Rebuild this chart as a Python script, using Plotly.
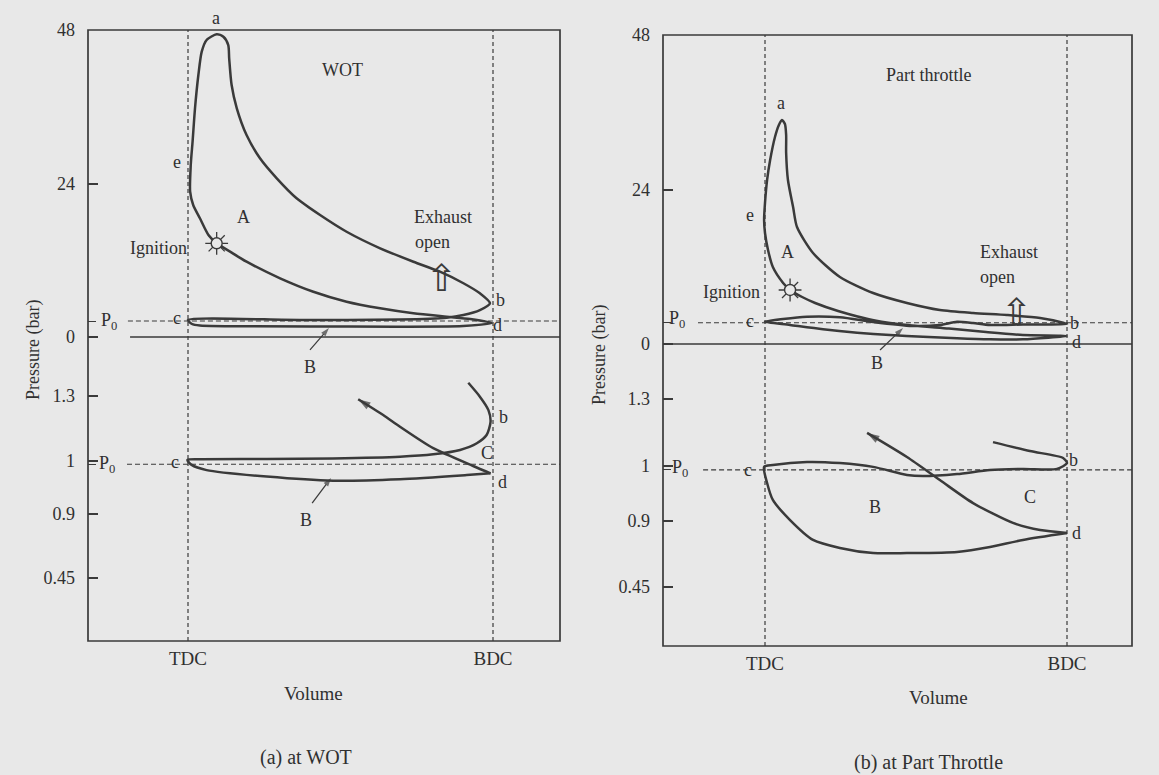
import plotly.graph_objects as go

W, H = 1159, 775
FONT = "Liberation Serif"
INK = "#3a3a3a"
TXT = "#303030"
BG = "#e8e8e8"

# ---------------- data (volume: 0 = TDC, 1 = BDC; pressure in bar) ----------------
TOP_TICK_VALS = [0, 24, 48]
TOP_TICK_TEXT = ["0", "24", "48"]
LOW_TICK_VALS = [1.3, 1.0, 0.755, 0.46]
LOW_TICK_TEXT = ["1.3", "1", "0.9", "0.45"]
X_TICK_VALS = [0, 1]
X_TICK_TEXT = ["TDC", "BDC"]

# (a) WOT - high pressure scale: d -> compression -> a -> expansion -> b -> exhaust -> c -> intake -> d
wot_hi_v = [0.996, 0.925, 0.848, 0.739, 0.630, 0.520, 0.411, 0.302, 0.192, 0.138, 0.094, 0.067,
            0.039, 0.017, 0.007, 0.009, 0.015, 0.023, 0.034, 0.045, 0.061, 0.094, 0.116, 0.132,
            0.135, 0.143, 0.160, 0.192, 0.236, 0.291, 0.356, 0.433, 0.520, 0.630, 0.739, 0.826,
            0.903, 0.957, 0.990, 0.957, 0.903, 0.848, 0.695, 0.367, 0.0, 0.013, 0.039, 0.466,
            0.902, 0.996]
wot_hi_p = [2.19, 2.81, 3.17, 3.71, 4.49, 5.52, 7.08, 9.18, 11.77, 13.34, 14.65, 15.95,
            18.56, 20.64, 22.72, 26.89, 30.54, 35.80, 40.96, 44.61, 46.44, 47.33, 46.95, 45.65,
            43.57, 39.40, 35.76, 31.58, 27.94, 24.81, 21.69, 19.07, 16.46, 13.87, 11.77, 10.21,
            8.40, 6.83, 5.27, 4.22, 3.44, 3.02, 2.74, 2.66, 2.66, 2.03, 1.80, 1.64,
            1.72, 2.19]
# (a) WOT - low pressure scale
wot_lo_v = [0.919, 0.957, 0.985, 0.992, 0.979, 0.947, 0.892, 0.804, 0.695, 0.475, 0.258, 0.039,
            -0.002, 0.012, 0.061, 0.258, 0.476, 0.695, 0.914, 0.992]
wot_lo_p = [1.361, 1.297, 1.235, 1.181, 1.120, 1.082, 1.051, 1.031, 1.020, 1.012, 1.009, 1.008,
            1.005, 0.982, 0.958, 0.928, 0.909, 0.916, 0.935, 0.943]
wot_cmp_v = [0.992, 0.935, 0.804, 0.695, 0.640, 0.558]
wot_cmp_p = [0.943, 0.977, 1.059, 1.158, 1.212, 1.285]
wot_ignition = (0.094, 14.65)
wot_exhaust_open = (0.832, 9.22)
wot_B_arrows = [((0.40, -2.03), (0.462, 1.41), "y2"), ((0.407, 0.806), (0.469, 0.922), "y")]
WOT_P0_HI = 2.5
WOT_P0_LO = 0.985

# (b) Part throttle - high pressure scale
pt_hi_v = [0.999, 0.854, 0.732, 0.609, 0.487, 0.364, 0.242, 0.166, 0.123, 0.083, 0.060, 0.026,
           0.010, 0.0, -0.003, 0.0, 0.007, 0.017, 0.033, 0.046, 0.056, 0.066, 0.070, 0.070,
           0.076, 0.093, 0.106, 0.159, 0.248, 0.358, 0.470, 0.579, 0.689, 0.801, 0.911, 0.987,
           1.0, 0.854, 0.745, 0.689, 0.636, 0.579, 0.487, 0.358, 0.248, 0.139, 0.060, 0.0,
           0.083, 0.192, 0.305, 0.414, 0.523, 0.636, 0.745, 0.854, 0.999]
pt_hi_p = [1.24, 1.40, 1.86, 2.41, 2.87, 3.65, 5.13, 6.37, 7.30, 8.39, 9.48, 11.96,
           14.60, 17.24, 19.26, 21.90, 25.48, 28.58, 32.16, 34.02, 34.80, 34.17, 32.47, 29.67,
           25.48, 21.28, 18.17, 14.14, 10.41, 7.92, 6.37, 5.28, 4.82, 4.50, 4.04, 3.31,
           3.11, 3.03, 2.95, 3.26, 3.46, 2.95, 2.80, 3.42, 4.15, 4.24, 3.88, 3.46,
           2.95, 2.28, 1.76, 1.40, 1.13, 0.89, 0.73, 0.73, 1.24]
# (b) Part throttle - low pressure scale
pt_lo_v = [0.755, 0.877, 0.987, 1.0, 0.967, 0.854, 0.745, 0.636, 0.523, 0.470, 0.358, 0.248,
           0.139, 0.026, -0.003, 0.007, 0.026, 0.083, 0.159, 0.248, 0.358, 0.470, 0.636, 0.745,
           0.854, 1.0]
pt_lo_p = [1.107, 1.067, 1.036, 1.013, 0.987, 0.987, 0.982, 0.964, 0.955, 0.960, 0.996, 1.013,
           1.018, 1.004, 0.996, 0.924, 0.848, 0.758, 0.669, 0.633, 0.610, 0.610, 0.615, 0.637,
           0.669, 0.700]
pt_cmp_v = [1.0, 0.911, 0.821, 0.689, 0.579, 0.470, 0.338]
pt_cmp_p = [0.700, 0.713, 0.745, 0.834, 0.937, 1.040, 1.148]
pt_ignition = (0.083, 8.39)
pt_exhaust_open = (0.834, 4.97)
pt_B_arrows = [((0.381, -0.93), (0.457, 2.49), "y4")]
PT_P0_HI = 3.3
PT_P0_LO = 0.983

# ---------------- layout geometry (pixels) ----------------
def fx(px):
    return px / W

def fy(py):
    return 1 - py / H

PANELS = [
    dict(x0=88, x1=560, top=30, bot=641, split=372, tdc=188, bdc=493, zero=337,
         kt=6.396, one=461, kl=216.7),
    dict(x0=663, x1=1132, top=35, bot=646, split=377, tdc=765, bdc=1067, zero=344,
         kt=6.4375, one=466, kl=223.3),
]

fig = go.Figure()
axis_font = dict(family=FONT, size=18, color=TXT)

for i, P in enumerate(PANELS):
    s = P["bdc"] - P["tdc"]
    xr = [(P["x0"] - P["tdc"]) / s, (P["x1"] - P["tdc"]) / s]
    up_r = [(P["zero"] - P["split"]) / P["kt"], (P["zero"] - P["top"]) / P["kt"]]
    lo_r = [1 + (P["one"] - P["bot"]) / P["kl"], 1 + (P["one"] - P["split"]) / P["kl"]]
    P["xr"] = xr
    xa = "xaxis" if i == 0 else "xaxis2"
    ylo = "yaxis" if i == 0 else "yaxis3"
    yup = "yaxis2" if i == 0 else "yaxis4"
    xname = "x" if i == 0 else "x2"
    yloname = "y" if i == 0 else "y3"
    p0hi = WOT_P0_HI if i == 0 else PT_P0_HI
    p0lo = WOT_P0_LO if i == 0 else PT_P0_LO
    common_y = dict(ticks="inside", ticklen=10, tickwidth=1.5, tickcolor=INK,
                    showline=False, showgrid=False, zeroline=False, ticklabelstandoff=12,
                    tickfont=axis_font, automargin=False, fixedrange=True)
    fig.update_layout(**{
        xa: dict(domain=[fx(P["x0"]), fx(P["x1"])], range=xr, anchor=yloname,
                 tickvals=X_TICK_VALS, ticktext=X_TICK_TEXT, ticks="", showline=False,
                 showgrid=False, zeroline=False, ticklabelstandoff=4, automargin=False,
                 fixedrange=True, tickfont=dict(family=FONT, size=19, color=TXT)),
        ylo: dict(domain=[fy(P["bot"]), fy(P["split"])], range=lo_r, anchor=xname,
                  tickvals=LOW_TICK_VALS, ticktext=LOW_TICK_TEXT,
                  minor=dict(tickvals=[p0lo], ticks="inside", ticklen=8, tickwidth=1.3,
                             tickcolor=INK, showgrid=False),
                  **common_y),
        yup: dict(domain=[fy(P["split"]), fy(P["top"])], range=up_r, anchor=xname,
                  tickvals=TOP_TICK_VALS, ticktext=TOP_TICK_TEXT,
                  minor=dict(tickvals=[p0hi], ticks="inside", ticklen=8, tickwidth=1.3,
                             tickcolor=INK, showgrid=False),
                  **common_y),
    })
    # frame
    fig.add_shape(type="rect", xref=xname + " domain", yref="paper", x0=0, x1=1,
                  y0=fy(P["bot"]), y1=fy(P["top"]), line=dict(color=INK, width=1.7))
    # TDC / BDC dashed lines
    for v in X_TICK_VALS:
        fig.add_shape(type="line", xref=xname, yref="paper", x0=v, x1=v,
                      y0=fy(P["bot"]), y1=fy(P["top"]),
                      line=dict(color=INK, width=1.2, dash="4px,3px"))

L, R = PANELS


def curve(v, p, xa, ya, width=2.5, head=0):
    n = len(v)
    kw = {}
    mode = "lines"
    if head:
        mode = "lines+markers"
        kw["marker"] = dict(symbol=["circle"] * (n - 1) + ["arrow"],
                            size=[0] * (n - 1) + [head], color=INK,
                            angleref="previous", line=dict(width=0))
    fig.add_trace(go.Scatter(x=v, y=p, xaxis=xa, yaxis=ya, mode=mode,
                             line=dict(color=INK, width=width, shape="spline", smoothing=0.7),
                             hoverinfo="skip", showlegend=False, **kw))


def hline(y, v0, v1, xa, ya, dash=None, width=1.2):
    fig.add_trace(go.Scatter(x=[v0, v1], y=[y, y], xaxis=xa, yaxis=ya, mode="lines",
                             line=dict(color=INK, width=width, dash=dash),
                             hoverinfo="skip", showlegend=False))


# zero lines and P0 lines
hline(0, -0.19, L["xr"][1], "x", "y2", width=1.6)
hline(0, R["xr"][0], R["xr"][1], "x2", "y4", width=1.6)
hline(WOT_P0_HI, -0.197, L["xr"][1], "x", "y2", dash="5px,3px")
hline(WOT_P0_LO, -0.20, L["xr"][1], "x", "y", dash="5px,3px")
hline(PT_P0_HI, -0.222, R["xr"][1], "x2", "y4", dash="5px,3px")
hline(PT_P0_LO, -0.205, R["xr"][1], "x2", "y3", dash="5px,3px")

# cycle curves
curve(wot_hi_v, wot_hi_p, "x", "y2")
curve(wot_lo_v, wot_lo_p, "x", "y")
curve(wot_cmp_v, wot_cmp_p, "x", "y", head=13)
curve(pt_hi_v, pt_hi_p, "x2", "y4")
curve(pt_lo_v, pt_lo_p, "x2", "y3")
curve(pt_cmp_v, pt_cmp_p, "x2", "y3", head=13)

# "B" pointer arrows
for arrows, xa in [(wot_B_arrows, "x"), (pt_B_arrows, "x2")]:
    for tail, tip, ya in arrows:
        fig.add_trace(go.Scatter(x=[tail[0], tip[0]], y=[tail[1], tip[1]], xaxis=xa, yaxis=ya,
                                 mode="lines+markers",
                                 line=dict(color=INK, width=1.2),
                                 marker=dict(symbol=["circle", "arrow"], size=[0, 9], color=INK,
                                             angleref="previous", line=dict(width=0)),
                                 hoverinfo="skip", showlegend=False))

# ignition bursts
for (v, p), xa, ya in [(wot_ignition, "x", "y2"), (pt_ignition, "x2", "y4")]:
    fig.add_trace(go.Scatter(x=[v], y=[p], xaxis=xa, yaxis=ya, mode="markers",
                             marker=dict(symbol="asterisk-open", size=19, color=INK,
                                         line=dict(color=INK, width=1.3)),
                             hoverinfo="skip", showlegend=False))
    fig.add_trace(go.Scatter(x=[v], y=[p], xaxis=xa, yaxis=ya, mode="markers",
                             marker=dict(symbol="circle", size=11, color=BG,
                                         line=dict(color=INK, width=1.4)),
                             hoverinfo="skip", showlegend=False))

ann = []


def label(text, v, p, xref, yref, size=18, xanchor="center", family=FONT, color=TXT, **kw):
    ann.append(dict(text=text, x=v, y=p, xref=xref, yref=yref, showarrow=False,
                    xanchor=xanchor, yanchor="middle",
                    font=dict(family=family, size=size, color=color), **kw))


# ---- panel (a) labels ----
label("a", 0.092, fy(18), "x", "paper")
for t, v, p, anc in [("WOT", 0.508, 41.7, "center"),
                     ("e", -0.036, 27.4, "center"), ("A", 0.181, 18.8, "center"),
                     ("Ignition", 0.003, 13.9, "right"), ("Exhaust", 0.734, 18.8, "left"),
                     ("open", 0.738, 14.9, "left"), ("b", 1.023, 5.78, "center"),
                     ("d", 1.016, 1.88, "center"), ("c", -0.036, 2.97, "center"),
                     ("P<sub>0</sub>", -0.259, 2.35, "center"), ("B", 0.40, -4.69, "center")]:
    label(t, v, p, "x", "y2", xanchor=anc)
for t, v, p in [("C", 0.980, 1.037), ("b", 1.033, 1.203), ("d", 1.030, 0.903),
                ("c", -0.043, 0.995), ("P<sub>0</sub>", -0.266, 0.982), ("B", 0.387, 0.728)]:
    label(t, v, p, "x", "y")
label("⇧", wot_exhaust_open[0], wot_exhaust_open[1], "x", "y2", size=37,
      family="DejaVu Sans", color=INK)

# ---- panel (b) labels ----
for t, v, p, anc in [("Part throttle", 0.543, 41.8, "center"), ("a", 0.053, 37.4, "center"),
                     ("e", -0.050, 20.0, "center"), ("A", 0.073, 14.3, "center"),
                     ("Ignition", -0.010, 8.08, "right"), ("Exhaust", 0.705, 14.3, "left"),
                     ("open", 0.705, 10.4, "left"), ("b", 1.026, 3.26, "center"),
                     ("d", 1.033, 0.31, "center"), ("c", -0.050, 3.57, "center"),
                     ("P<sub>0</sub>", -0.291, 3.73, "center"), ("B", 0.371, -2.95, "center")]:
    label(t, v, p, "x2", "y4", xanchor=anc)
for t, v, p in [("B", 0.364, 0.816), ("C", 0.877, 0.861), ("b", 1.020, 1.027),
                ("d", 1.033, 0.700), ("c", -0.056, 0.982), ("P<sub>0</sub>", -0.281, 0.991)]:
    label(t, v, p, "x2", "y3")
label("⇧", pt_exhaust_open[0], pt_exhaust_open[1], "x2", "y4", size=37,
      family="DejaVu Sans", color=INK)

# ---- axis titles & captions ----
label("Volume", 0.41, fy(693), "x", "paper", size=19)
label("Volume", 0.573, fy(697), "x2", "paper", size=19)
label("(a) at WOT", 0.387, fy(757), "x", "paper", size=20)
label("(b) at Part Throttle", 0.543, fy(762), "x2", "paper", size=20)
label("Pressure (bar)", fx(33), fy(350), "paper", "paper", size=18, textangle=-90)
label("Pressure (bar)", fx(600), fy(355), "paper", "paper", size=18, textangle=-90)

fig.update_layout(width=W, height=H,
                  margin=dict(l=0, r=0, t=0, b=0, pad=0, autoexpand=False),
                  paper_bgcolor=BG, plot_bgcolor="rgba(0,0,0,0)",
                  showlegend=False, hovermode=False, annotations=ann)

fig.write_html("out.html", config={"displayModeBar": False})
